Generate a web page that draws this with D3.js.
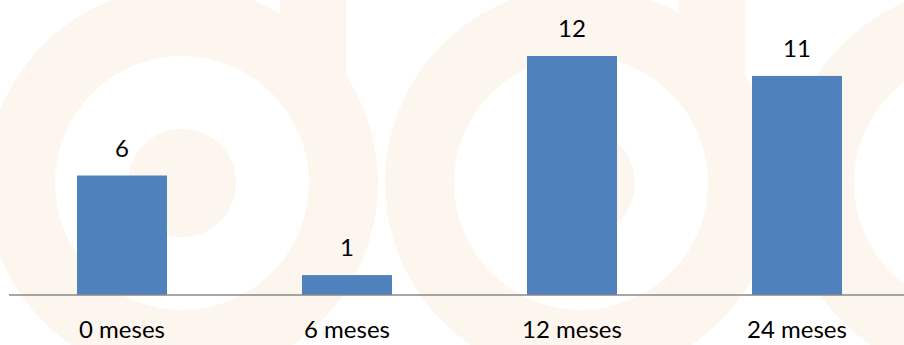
<!DOCTYPE html>
<html>
<head>
<meta charset="utf-8">
<script src="https://cdn.jsdelivr.net/npm/d3@7"></script>
<style>
  html, body { margin: 0; padding: 0; background: #ffffff; }
  svg { display: block; }
  text { font-family: Lato, "Open Sans", sans-serif; fill: #000; }
</style>
</head>
<body>
<svg id="chart" width="904" height="345"></svg>
<script>
const categories = ["0 meses", "6 meses", "12 meses", "24 meses"];
const values = [6, 1, 12, 11];

const W = 904, H = 345;
const svg = d3.select("#chart");

// faint watermark logo in the background (decoration)
const cream = "#fdf6ef";
const wm = svg.append("g").attr("class", "watermark");
[182, 581, 981].forEach((cx, i) => {
  wm.append("circle").attr("cx", cx).attr("cy", 183).attr("r", 196).attr("fill", cream);
  if (i < 2) {
    wm.append("rect").attr("x", cx + 98).attr("y", -10).attr("width", 66).attr("height", 200).attr("fill", cream);
  }
  wm.append("circle").attr("cx", cx).attr("cy", 183).attr("r", 127).attr("fill", "#ffffff");
  if (i < 2) {
    wm.append("circle").attr("cx", cx).attr("cy", 183).attr("r", 54).attr("fill", cream);
  }
});

const x = d3.scaleBand()
  .domain(categories)
  .range([9.5, 909.5])
  .paddingInner(0.6)
  .paddingOuter(0.3);

const y = d3.scaleLinear()
  .domain([0, 12])
  .range([295, 56]);

// bars
svg.append("g").selectAll("rect")
  .data(values)
  .join("rect")
  .attr("x", (d, i) => x(categories[i]))
  .attr("y", d => y(d))
  .attr("width", x.bandwidth())
  .attr("height", d => y(0) - y(d))
  .attr("fill", "#4f81bd");

// x axis
const xAxis = svg.append("g")
  .attr("transform", `translate(0,${y(0)})`)
  .call(d3.axisBottom(x).tickSize(0).tickPadding(0));
xAxis.select(".domain").remove();
xAxis.append("line")
  .attr("x1", 9).attr("x2", W)
  .attr("y1", 0).attr("y2", 0)
  .attr("stroke", "#898989").attr("stroke-width", 1.5);
xAxis.selectAll(".tick text")
  .attr("y", 42.5).attr("dy", null)
  .attr("font-size", 24)
  .style("font-family", "Lato, 'Open Sans', sans-serif")
  .attr("fill", "#000");

// value labels
svg.append("g").selectAll("text")
  .data(values)
  .join("text")
  .attr("x", (d, i) => x(categories[i]) + x.bandwidth() / 2)
  .attr("y", d => y(d) - 19)
  .attr("text-anchor", "middle")
  .attr("font-size", 24)
  .text(d => d);
</script>
</body>
</html>
